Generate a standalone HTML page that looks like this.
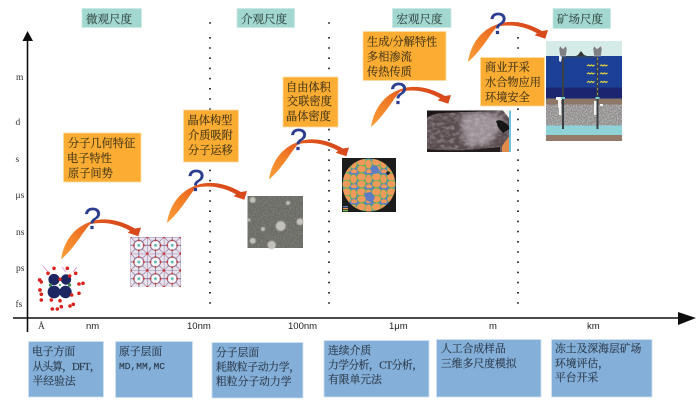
<!DOCTYPE html>
<html><head><meta charset="utf-8"><style>
html,body{margin:0;padding:0;background:#fff;width:700px;height:400px;overflow:hidden}
svg{display:block}
.c{font-family:"Liberation Serif","Noto Serif CJK SC",serif;font-size:11.2px;fill:#3b3a30;stroke:#3b3a30;stroke-width:.18}
.t{font-size:11.5px;fill:#38504c;stroke:#38504c}
.o{fill:#4a3b1c;stroke:#4a3b1c}
.b{font-size:10.8px;fill:#2f3f50;stroke:#2f3f50}
.y{font-family:"Liberation Serif",serif;font-size:9.5px;fill:#333}
.x{font-family:"Liberation Sans",sans-serif;font-size:9.5px;fill:#222}
.q{font-family:"Liberation Sans",sans-serif;font-size:31px;fill:#2b3c8f;stroke:#2b3c8f;stroke-width:.3;text-anchor:middle}
</style></head><body>
<svg width="700" height="400" viewBox="0 0 700 400" xmlns="http://www.w3.org/2000/svg">
<defs>
<linearGradient id="ag" x1="0" y1="1" x2="1" y2="0.35">
<stop offset="0" stop-color="#f9a03a"/><stop offset=".4" stop-color="#f27d26"/><stop offset=".7" stop-color="#e25a20"/><stop offset="1" stop-color="#d8481b"/>
</linearGradient>
<path id="arrow" fill="url(#ag)" d="M0,0 C2,-14 10,-30 27,-36.7 C38,-42 55,-42 74,-31 L80,-32 L77.3,-23.3 L66.7,-26.7 L69,-28.7 C58,-35 44,-38.5 29,-35.3 C22,-28 14,-12 0,0Z"/>
<pattern id="mof" width="16.7" height="16.7" patternUnits="userSpaceOnUse" x="130.5" y="237">
<rect width="16.7" height="16.7" fill="#e9e3ec"/>
<circle cx="8.3" cy="8.3" r="5" fill="#f8f8fa" stroke="#85607f" stroke-width="1"/>
<path d="M0,0H16.7M0,0V16.7M0,8.3H3.3M13.3,8.3H16.7M8.3,0V3.3M8.3,13.3V16.7" stroke="#7a6496" stroke-width=".8"/>
<path d="M0,0L4.8,4.8M16.7,0L11.9,4.8M0,16.7L4.8,11.9M16.7,16.7L11.9,11.9" stroke="#8a6f9c" stroke-width=".6"/>
<circle cx="8.3" cy="8.3" r="1.4" fill="#5cb8b2"/>
<circle cx="0" cy="0" r="1.3" fill="#c8342e"/><circle cx="16.7" cy="0" r="1.3" fill="#c8342e"/><circle cx="0" cy="16.7" r="1.3" fill="#c8342e"/><circle cx="16.7" cy="16.7" r="1.3" fill="#c8342e"/>
<circle cx="8.3" cy="3.3" r="1" fill="#c8342e"/><circle cx="3.3" cy="8.3" r="1" fill="#c8342e"/><circle cx="13.3" cy="8.3" r="1" fill="#c8342e"/><circle cx="8.3" cy="13.3" r="1" fill="#c8342e"/>
</pattern>
<pattern id="grains" width="15" height="15" patternUnits="userSpaceOnUse" x="342" y="158">
<rect width="15" height="15" fill="#5f7cc4"/>
<ellipse cx="4.5" cy="4" rx="4.8" ry="3.8" fill="#ef9a5c" stroke="#6fb84f" stroke-width=".7"/>
<ellipse cx="11.5" cy="6" rx="3.4" ry="4.6" fill="#ef9a5c" stroke="#6fb84f" stroke-width=".7"/>
<ellipse cx="4.5" cy="11" rx="4.4" ry="3.6" fill="#ef9a5c" stroke="#6fb84f" stroke-width=".7"/>
<ellipse cx="12" cy="13.4" rx="3" ry="2.2" fill="#ef9a5c"/>
</pattern>
<filter id="n1" x="0" y="0" width="100%" height="100%"><feTurbulence type="fractalNoise" baseFrequency=".6" numOctaves="2" seed="3"/><feColorMatrix values="0 0 0 0 .25  0 0 0 0 .25  0 0 0 0 .23  1.8 0 0 0 -.6"/></filter>
<filter id="n2" x="0" y="0" width="100%" height="100%"><feTurbulence type="fractalNoise" baseFrequency=".2 .3" numOctaves="3" seed="8"/><feColorMatrix values="0 0 0 0 .72  0 0 0 0 .66  0 0 0 0 .68  2 0 0 0 -.8"/></filter>
<filter id="n3" x="0" y="0" width="100%" height="100%"><feTurbulence type="fractalNoise" baseFrequency=".8" numOctaves="2" seed="5"/><feColorMatrix values="0 0 0 0 1  0 0 0 0 1  0 0 0 0 1  2.4 0 0 0 -1"/></filter>
<filter id="s"><feGaussianBlur stdDeviation=".35"/></filter>
<filter id="s2"><feGaussianBlur stdDeviation=".6"/></filter>
<filter id="s3"><feGaussianBlur stdDeviation="2.5"/></filter>
</defs>

<g id="all" filter="url(#s)">
<g stroke="#111" stroke-width="1.6">
<path stroke-dasharray="1.6 8.6" d="M210,37 V304"/>
<path d="M209.2,23h1.6M328.2,23h1.6M517.2,23h1.6"/>
<path stroke-dasharray="1.6 8.6" d="M329,37 V304"/>
<path stroke-dasharray="1.6 8.6" d="M518,37 V304"/>
</g>

<path d="M27.5,38 V332" stroke="#111" stroke-width="1.6"/>
<path d="M22.5,41 L27.5,31 L33,41Z" fill="#111"/>
<path d="M13,318 H682" stroke="#111" stroke-width="1.5"/>
<path d="M678,312 L696,318 L678,325Z" fill="#111"/>

<g class="y">
<text x="16" y="80">m</text><text x="15.5" y="125">d</text><text x="15.5" y="162">s</text>
<text x="15.5" y="198">μs</text><text x="16" y="235">ns</text><text x="16" y="271">ps</text><text x="15.5" y="307">fs</text>
<text x="38" y="329">Å</text>
</g>
<g class="x">
<text x="86" y="329">nm</text><text x="187" y="329">10nm</text><text x="288" y="329">100nm</text>
<text x="389" y="329">1μm</text><text x="489" y="329">m</text><text x="587" y="329">km</text>
</g>

<g fill="#a3d8d0" stroke="#c9e9e4" stroke-width=".8">
<rect x="82" y="8.5" width="59.5" height="19"/><rect x="237" y="8.5" width="57.5" height="19"/>
<rect x="392.5" y="8.5" width="58.5" height="19"/><rect x="553" y="8.5" width="57.5" height="20"/>
</g>
<g class="c t">
<text x="86" y="23">微观尺度</text><text x="241" y="23">介观尺度</text>
<text x="396.5" y="23">宏观尺度</text><text x="557" y="23">矿场尺度</text>
</g>

<g id="mol">
<g stroke="#e58cd0" stroke-width=".9"><path d="M43,266l5,6M62,267l4,5M77,267l-4,5"/></g>
<g fill="#1a2560"><circle cx="54" cy="279.5" r="5.6"/><circle cx="66" cy="279.5" r="5.2"/><circle cx="54" cy="292" r="6.4"/><circle cx="65.5" cy="292" r="6.2"/></g>
<g fill="#3d8a4e"><circle cx="50.5" cy="285" r="1.6"/><circle cx="69.5" cy="285" r="1.6"/><circle cx="60" cy="285" r="1"/></g>
<g fill="#d9231e">
<circle cx="39.7" cy="280" r="1.9"/><circle cx="41.3" cy="282" r="1.7"/><circle cx="40" cy="290" r="1.9"/><circle cx="41.3" cy="294.3" r="1.8"/><circle cx="41.3" cy="300" r="1.8"/>
<circle cx="51.3" cy="300" r="1.8"/><circle cx="52.3" cy="309" r="1.8"/><circle cx="57.3" cy="309" r="1.8"/><circle cx="61.3" cy="306.7" r="1.8"/><circle cx="70" cy="306" r="1.8"/><circle cx="73.3" cy="304.3" r="1.8"/>
<circle cx="79" cy="293.3" r="1.8"/><circle cx="71.7" cy="295" r="1.8"/><circle cx="79" cy="284" r="1.8"/><circle cx="83" cy="283.3" r="1.8"/>
<circle cx="75.7" cy="273.3" r="1.8"/><circle cx="67.3" cy="268.3" r="1.8"/><circle cx="69.7" cy="276" r="1.8"/><circle cx="48" cy="273.3" r="1.8"/><circle cx="54" cy="268.3" r="1.8"/>
<circle cx="60" cy="279.3" r="1.8"/><circle cx="60" cy="300.7" r="1.8"/>
</g>
</g>

<rect x="130.5" y="237" width="50.5" height="50" fill="url(#mof)"/>

<rect x="247.5" y="196" width="55.5" height="52" fill="#6a6a64"/>
<rect x="247.5" y="196" width="55.5" height="52" filter="url(#n1)" opacity=".8"/>
<g fill="#c2c2ba" filter="url(#s2)">
<circle cx="280.7" cy="226" r="5"/><circle cx="271.7" cy="245" r="4.2"/><circle cx="252.7" cy="240.7" r="3"/>
<circle cx="300" cy="221.7" r="3.4"/><circle cx="263" cy="229" r="2"/><circle cx="252.7" cy="200" r="3"/><circle cx="288" cy="203" r="2"/><circle cx="249" cy="220" r="1.5"/>
</g>

<rect x="342" y="158" width="54" height="54" fill="#1b1b1b"/>
<circle cx="369" cy="185" r="26.5" fill="url(#grains)"/>
<path d="M372,165l5,1 3,5-4,3-5-2zM364,193l7-1 4,5-3,6-6-3z" fill="#5f7cc4"/>
<circle cx="388" cy="173" r="1.8" fill="#222"/>
<g><rect x="343" y="206" width="5" height="1.3" fill="#5f7cc4"/><rect x="343" y="208" width="5" height="1.3" fill="#ef9a5c"/><rect x="343" y="210" width="5" height="1.3" fill="#6fb84f"/></g>

<rect x="427" y="110.5" width="84" height="41.5" fill="#5a4d50"/>
<path d="M463,114 C470,112 492,112 502,118 C500,130 494,138 488,144 L468,146 C462,135 460,124 463,114Z" fill="#9a9096" filter="url(#s3)"/>
<rect x="427" y="110.5" width="84" height="41.5" filter="url(#n2)" opacity=".45"/>
<path d="M427,110.5h76 C480,112 450,112 438,113.5 C432,114.5 429,116 427,118Z" fill="#1d1818"/>
<path d="M427,149 C445,151 465,150.5 480,149 L500,147 L500,152H427Z" fill="#231c1c"/>
<path d="M496,121 C502,118 506,124 511,128 L503,133 L498,127Z" fill="#151212"/>
<path d="M503,110.5h6v2 L509,118 C506,114 504,112 503,110.5Z" fill="#f3efe9"/>
<path d="M502,146 L510,135 V152 H502Z" fill="#e08a4c"/>
<rect x="509" y="110.5" width="2" height="41.5" fill="#6fc0dc"/>

<g id="field">
<rect x="546" y="41" width="76" height="100" fill="#d4ebe8"/>
<rect x="546" y="56" width="76" height="32" fill="#1e3f96"/>
<rect x="546" y="87.5" width="76" height="11" fill="#1f2570"/>
<rect x="546" y="98.5" width="76" height="6" fill="#8d7868"/>
<rect x="546" y="104.5" width="76" height="21" fill="#8f8c8c"/>
<rect x="546" y="104.5" width="76" height="21" filter="url(#n3)" opacity=".55"/>
<rect x="546" y="125.5" width="76" height="9.5" fill="#8fd2d8"/>
<rect x="546" y="135" width="76" height="6" fill="#957c6a"/>
<path d="M563,57 V129 M597.5,57 V129" stroke="#3a3f44" stroke-width="2"/>
<path d="M563,57 H597" stroke="#444" stroke-width="1"/>
<path d="M560,46l3,3 3-3 1,3-1,7h-6l-1-7zM594,46l3,3 4-3 1,3-1,7h-7l-1-7z" fill="#7d7f85" stroke="#eee" stroke-width=".4"/>
<path d="M578,55l3-4 3,4 3,1h-11z" fill="#333"/>
<path d="M559,55l3,2-1,5-2-1z" fill="#eef"/>
<g fill="none" stroke="#e9dc3a" stroke-width="1.1">
<path d="M587,66l1.5-1.2 1.5,1.2 1.5-1.2 1.5,1.2 1.5-1.2 M600,66l1.5-1.2 1.5,1.2 1.5-1.2 1.5,1.2 1.5-1.2"/>
<path d="M587,74l1.5-1.2 1.5,1.2 1.5-1.2 1.5,1.2 1.5-1.2 M600,74l1.5-1.2 1.5,1.2 1.5-1.2 1.5,1.2 1.5-1.2"/>
<path d="M587,82.5l1.5-1.2 1.5,1.2 1.5-1.2 1.5,1.2 1.5-1.2 M600,82.5l1.5-1.2 1.5,1.2 1.5-1.2 1.5,1.2 1.5-1.2"/>
</g>
<path d="M597.5,58V98" stroke="#cfc24a" stroke-width=".7" stroke-dasharray="2 3"/>
<g fill="#f2f2f2"><rect x="556" y="97" width="6" height="3"/><rect x="558" y="100" width="3" height="8"/><rect x="559" y="108" width="2.2" height="7"/><rect x="594" y="101" width="2.5" height="14"/><rect x="600" y="104" width="3" height="2"/></g>
<rect x="561" y="97" width="4" height="2" fill="#7cc"/><rect x="595.5" y="97" width="4" height="2" fill="#7cc"/>
</g>

<use href="#arrow" x="61" y="259.5"/>
<use href="#arrow" x="167" y="223"/>
<use href="#arrow" x="269" y="179.5"/>
<use href="#arrow" x="371" y="127"/>
<use href="#arrow" x="468" y="62"/>
<g class="q">
<text x="92.5" y="229">?</text><text x="196" y="191">?</text><text x="298.5" y="150">?</text>
<text x="398.5" y="104">?</text><text x="498" y="34">?</text>
</g>

<g fill="#fbac30" stroke="#fddca6" stroke-width=".8">
<rect x="63.5" y="133" width="77.5" height="49"/>
<rect x="183.5" y="110" width="55" height="52"/>
<rect x="283" y="77" width="55" height="50"/>
<rect x="363" y="31.5" width="83" height="49"/>
<rect x="480.5" y="57.5" width="64" height="48.5"/>
</g>
<g class="c o">
<text x="68" y="147">分子几何特征</text><text x="67" y="162">电子特性</text><text x="68" y="177">原子间势</text>
<text x="187.5" y="124">晶体构型</text><text x="188" y="139">介质吸附</text><text x="188" y="154">分子运移</text>
<text x="286" y="91">自由体积</text><text x="287" y="105">交联密度</text><text x="286" y="120">晶体密度</text>
<text x="367" y="45.5">生成/分解特性</text><text x="367" y="60.5">多相渗流</text><text x="367" y="75.5">传热传质</text>
<text x="485" y="71">商业开采</text><text x="485" y="86">水合物应用</text><text x="485" y="101">环境安全</text>
</g>

<g fill="#84afd9" stroke="#d2e2f1" stroke-width=".8">
<rect x="28.5" y="341.5" width="75" height="55.5"/>
<rect x="115.5" y="341.5" width="77" height="56"/>
<rect x="212" y="342.5" width="91" height="55.5"/>
<rect x="324" y="340.5" width="105" height="56.5"/>
<rect x="436.5" y="339.5" width="104.5" height="57.5"/>
<rect x="551.5" y="339.5" width="100.5" height="57.5"/>
</g>
<g class="c b">
<text x="32" y="355">电子方面</text>
<text x="32.5" y="370" textLength="68">从头算，DFT，</text>
<text x="32.5" y="384.5">半经验法</text>
<text x="119" y="355">原子层面</text>
<text x="119" y="369" textLength="46" lengthAdjust="spacingAndGlyphs" style="font-family:'Liberation Mono',monospace;font-size:9px">MD,MM,MC</text>
<text x="216" y="356">分子层面</text>
<text x="216" y="370.5" textLength="84">耗散粒子动力学，</text>
<text x="216" y="385">粗粒分子动力学</text>
<text x="328" y="354">连续介质</text>
<text x="328" y="368.5" textLength="95">力学分析，CT分析，</text>
<text x="328" y="383">有限单元法</text>
<text x="441" y="352">人工合成样品</text>
<text x="441" y="367">三维多尺度模拟</text>
<text x="555" y="352">冻土及深海层矿场</text>
<text x="555" y="367">环境评估，</text>
<text x="555" y="381">平台开采</text>
</g>
</g>
</svg>
</body></html>
